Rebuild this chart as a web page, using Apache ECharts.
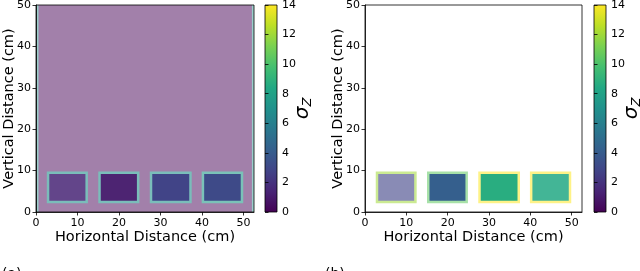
<!DOCTYPE html>
<html>
<head>
<meta charset="utf-8">
<script src="https://cdn.jsdelivr.net/npm/echarts@6/dist/echarts.min.js"></script>
<style>html,body{margin:0;padding:0;background:#fff}#c{width:640px;height:271px}</style>
</head>
<body>
<div id="c"></div>
<script>
// ---- data ----
const xTicks = [0, 10, 20, 30, 40, 50];
const yTicks = [0, 10, 20, 30, 40, 50];
const cbarTicks = [0, 2, 4, 6, 8, 10, 12, 14];
const xRange = [0, 52.5];
const yRange = [0, 50];
const cRange = [0, 14];
// box extents (cm)
const boxX0 = [2.6, 15.0, 27.4, 39.9];
const boxX1 = [12.5, 24.9, 37.5, 49.9];
const boxY0 = [2.1, 2.1, 2.1, 2.1];
const boxY1 = [9.8, 9.8, 9.8, 9.8];
const boxEdge = 0.6;
// left panel sigma_Z values
const leftBackground = 0;
const leftSideStrip = 7;
const leftBoxValues = [1.4, 1.1, 2.8, 3.1];
const leftEdgeValues = [7, 7, 7, 7.5];
// right panel sigma_Z values
const rightBoxValues = [2.8, 4.2, 8.7, 8.4];
const rightEdgeValues = [12, 10.5, 14, 14];

// ---- styles ----
const viridis = ['#440154','#482475','#414487','#355f8d','#2a788e','#21918c','#22a884','#44bf70','#7ad151','#bddf26','#fde725'];
const leftAlpha = { bg: 0.5, strip: 0.45, box: [0.85, 0.97, 1, 1], edge: 0.6 };
const rightAlpha = { box: [0.62, 1, 1, 0.85], edge: 0.55 };
const FONT = 'DejaVu Sans';

function buildPanel(bgVal, stripVal, boxVals, edgeVals, alpha) {
  const items = [], ops = [];
  if (bgVal !== null) {
    items.push([xRange[0], xRange[1], yRange[0], yRange[1], bgVal]); ops.push(alpha.bg);
  }
  if (stripVal !== null) {
    items.push([0, 0.6, 0, 50, stripVal]); ops.push(alpha.strip);
    items.push([52.0, 52.5, 0, 50, stripVal]); ops.push(alpha.strip);
  }
  for (let i = 0; i < boxVals.length; i++) {
    items.push([boxX0[i], boxX1[i], boxY0[i], boxY1[i], edgeVals[i]]); ops.push(alpha.edge);
    items.push([boxX0[i] + boxEdge, boxX1[i] - boxEdge, boxY0[i] + boxEdge, boxY1[i] - boxEdge, boxVals[i]]); ops.push(alpha.box[i]);
  }
  return { items, ops };
}
const left = buildPanel(leftBackground, leftSideStrip, leftBoxValues, leftEdgeValues, leftAlpha);
const right = buildPanel(null, null, rightBoxValues, rightEdgeValues, rightAlpha);

function makeRender(ops) {
  return function (params, api) {
    const p0 = api.coord([api.value(0), api.value(2)]);
    const p1 = api.coord([api.value(1), api.value(3)]);
    const col = echarts.color.lerp(ops[params.dataIndex], ['#ffffff', api.visual('color')]);
    return { type: 'rect', shape: { x: p0[0], y: p1[1], width: p1[0] - p0[0], height: p0[1] - p1[1] }, style: { fill: col } };
  };
}
function cbarRender(params, api) {
  const p0 = api.coord([0, cRange[0]]);
  const p1 = api.coord([1, cRange[1]]);
  const stops = viridis.map((c, i) => ({ offset: i / (viridis.length - 1), color: c }));
  return { type: 'rect', shape: { x: p0[0], y: p1[1], width: p1[0] - p0[0], height: p0[1] - p1[1] },
    style: { fill: new echarts.graphic.LinearGradient(0, 1, 0, 0, stops), stroke: '#000', lineWidth: 0.8 } };
}

const tickStyle = { show: true, inside: false, length: 3.5, lineStyle: { color: '#000', width: 0.8 } };
const lblStyle = { color: '#000', fontFamily: FONT, fontSize: 11 };
const nameStyle = { color: '#000', fontFamily: FONT, fontSize: 14.5 };

function mainX(gi) {
  return { type: 'value', gridIndex: gi, min: xRange[0], max: xRange[1], interval: 10, z: 10,
    name: 'Horizontal Distance (cm)', nameLocation: 'middle', nameGap: 18, nameMoveOverlap: false, nameTextStyle: nameStyle,
    axisLine: { show: true, lineStyle: { color: '#000', width: 0.8 } },
    axisTick: Object.assign({ customValues: xTicks }, tickStyle),
    axisLabel: Object.assign({ customValues: xTicks, margin: 6 }, lblStyle),
    splitLine: { show: false } };
}
function mainY(gi) {
  return { type: 'value', gridIndex: gi, min: yRange[0], max: yRange[1], interval: 10, z: 10,
    name: 'Vertical Distance (cm)', nameLocation: 'middle', nameGap: 19, nameMoveOverlap: false, nameRotate: 90, nameTextStyle: nameStyle,
    axisLine: { show: true, lineStyle: { color: '#000', width: 0.8 } },
    axisTick: Object.assign({ customValues: yTicks }, tickStyle),
    axisLabel: Object.assign({ customValues: yTicks, margin: 5 }, lblStyle),
    splitLine: { show: false } };
}
function cbX(gi) {
  return { type: 'value', gridIndex: gi, min: 0, max: 1, show: false };
}
function cbY(gi) {
  return { type: 'value', gridIndex: gi, min: cRange[0], max: cRange[1], interval: 2, position: 'right', z: 10,
    name: '{s|σ}{z|Z}', nameLocation: 'middle', nameGap: 14, nameMoveOverlap: false, nameRotate: 90,
    nameTextStyle: { color: '#000', fontFamily: FONT, rich: {
      s: { fontSize: 20, fontStyle: 'italic', fontFamily: FONT, color: '#000' },
      z: { fontSize: 13, fontStyle: 'italic', fontFamily: FONT, color: '#000', padding: [10, 0, 0, 0] } } },
    axisLine: { show: false },
    axisTick: Object.assign({ customValues: cbarTicks }, tickStyle),
    axisLabel: Object.assign({ customValues: cbarTicks, margin: 5 }, lblStyle),
    splitLine: { show: false } };
}

const chart = echarts.init(document.getElementById('c'), null, { renderer: 'canvas' });
chart.setOption({
  animation: false,
  backgroundColor: '#fff',
  grid: [
    { left: 36, top: 5, width: 218, height: 207, show: true, borderColor: '#000', borderWidth: 0.8, z: 10, outerBoundsMode: 'none', containLabel: false },
    { left: 265, top: 5, width: 12, height: 207, outerBoundsMode: 'none', containLabel: false },
    { left: 365, top: 5, width: 217, height: 207, show: true, borderColor: '#000', borderWidth: 0.8, z: 10, outerBoundsMode: 'none', containLabel: false },
    { left: 594, top: 5, width: 12, height: 207, outerBoundsMode: 'none', containLabel: false }
  ],
  xAxis: [mainX(0), cbX(1), mainX(2), cbX(3)],
  yAxis: [mainY(0), cbY(1), mainY(2), cbY(3)],
  visualMap: {
    type: 'continuous', show: false, min: cRange[0], max: cRange[1], dimension: 4, seriesIndex: [0, 1],
    inRange: { color: viridis }
  },
  series: [
    { type: 'custom', xAxisIndex: 0, yAxisIndex: 0, renderItem: makeRender(left.ops), data: left.items, silent: true },
    { type: 'custom', xAxisIndex: 2, yAxisIndex: 2, renderItem: makeRender(right.ops), data: right.items, silent: true },
    { type: 'custom', xAxisIndex: 1, yAxisIndex: 1, renderItem: cbarRender, data: [[0, 14]], silent: true },
    { type: 'custom', xAxisIndex: 3, yAxisIndex: 3, renderItem: cbarRender, data: [[0, 14]], silent: true }
  ],
  graphic: [
    { type: 'text', left: 2, top: 267, style: { text: '(a)', fontFamily: FONT, fontSize: 14, fill: '#000' } },
    { type: 'text', left: 325, top: 267, style: { text: '(b)', fontFamily: FONT, fontSize: 14, fill: '#000' } }
  ]
});
</script>
</body>
</html>
